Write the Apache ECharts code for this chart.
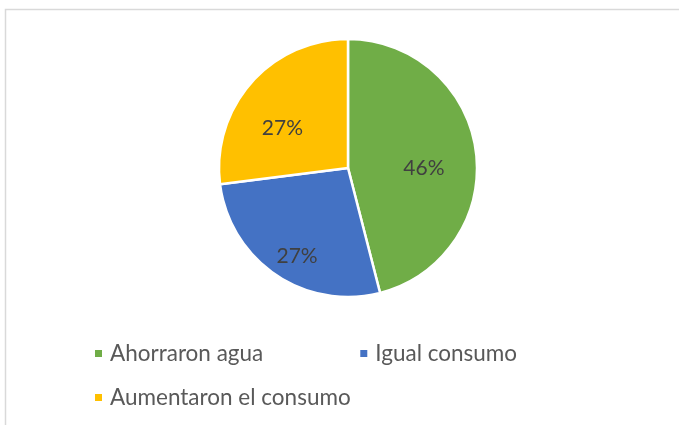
<!DOCTYPE html>
<html>
<head>
<meta charset="utf-8">
<script src="https://cdn.jsdelivr.net/npm/echarts@6/dist/echarts.min.js"></script>
<style>html,body{margin:0;padding:0;background:#fff}#c{width:679px;height:425px}</style>
</head>
<body>
<div id="c"></div>
<script>
var categories = ['Ahorraron agua', 'Igual consumo', 'Aumentaron el consumo'];
var values = [46, 27, 27];
var colors = ['#70AD47', '#4472C4', '#FFC000'];

// label nudges to mimic the spreadsheet's best-fit label placement
var labelNudge = [[9, 9], [-13, 32], [-15, 5]];

var chart = echarts.init(document.getElementById('c'));
var FONT = 'Lato';
var data = categories.map(function (c, i) {
  return { name: c, value: values[i], itemStyle: { color: colors[i] },
           label: { offset: labelNudge[i] } };
});
var legendText = { fontFamily: FONT, fontSize: 22.5, color: '#595959', padding: [0, 0, 0, 2] };
chart.setOption({
  animation: false,
  backgroundColor: '#fff',
  graphic: [{
    type: 'rect', shape: { x: 5.5, y: 9.5, width: 700, height: 500 },
    style: { fill: 'none', stroke: '#d9d9d9', lineWidth: 1.5 }, silent: true
  }],
  legend: [{
    data: [categories[0], categories[1]],
    left: 88, top: 337, itemWidth: 9, itemHeight: 9, itemGap: 95,
    icon: 'rect',
    textStyle: legendText
  }, {
    data: [categories[2]],
    left: 88, top: 381, itemWidth: 9, itemHeight: 9,
    icon: 'rect',
    textStyle: legendText
  }],
  series: [{
    type: 'pie',
    center: [348, 168],
    radius: 129,
    startAngle: 90,
    clockwise: true,
    data: data,
    itemStyle: { borderColor: '#fff', borderWidth: 2.5 },
    label: {
      position: 'inside',
      formatter: function (p) { return Math.round(p.percent) + '%'; },
      fontFamily: FONT, fontSize: 21, color: '#404040'
    },
    labelLine: { show: false },
    emphasis: { disabled: true }
  }]
});
</script>
</body>
</html>
